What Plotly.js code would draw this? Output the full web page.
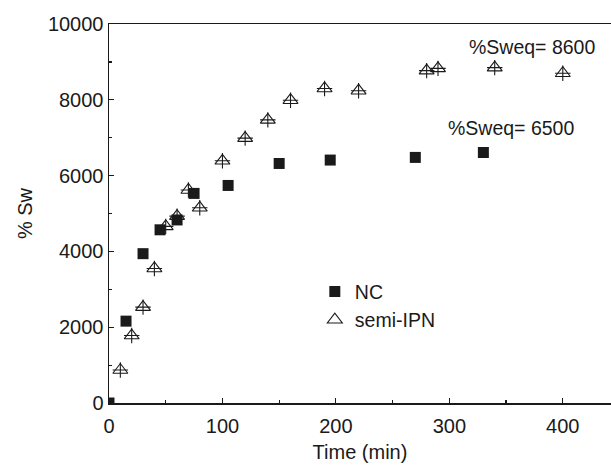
<!DOCTYPE html>
<html>
<head>
<meta charset="utf-8">
<script src="https://cdn.plot.ly/plotly-3.0.1.min.js"></script>
<style>html,body{margin:0;padding:0;background:#fff;}#chart{width:611px;height:465px;}</style>
</head>
<body>
<div id="chart"></div>
<script>
const ncTime = [0, 15, 30, 45, 60, 75, 105, 150, 195, 270, 330];
const ncSw = [0, 2160, 3940, 4570, 4830, 5530, 5740, 6320, 6410, 6480, 6610];
const ipnTime = [10, 20, 30, 40, 50, 60, 70, 80, 100, 120, 140, 160, 190, 220, 280, 290, 340, 400];
const ipnSw = [870, 1780, 2530, 3550, 4660, 4930, 5620, 5150, 6390, 6990, 7470, 7990, 8300, 8240, 8770, 8830, 8850, 8700];
const ncName = 'NC';
const ipnName = 'semi-IPN';
const notes = [
  {text: '%Sweq= 8600', x: 373, y: 9390},
  {text: '%Sweq= 6500', x: 354, y: 7250}
];
const xTitle = 'Time (min)';
const yTitle = '% Sw';

const ink = '#1a1a1a';
const fontFam = 'Arial, "Liberation Sans", Helvetica, sans-serif';

const traces = [
  {x: ncTime, y: ncSw, name: ncName, mode: 'markers', type: 'scatter',
   marker: {symbol: 'square', size: 11, color: ink, line: {width: 0}}},
  {x: ipnTime, y: ipnSw, name: ipnName, mode: 'markers', type: 'scatter', legendgroup: 'ipn',
   marker: {symbol: 'triangle-up-open', size: 13, color: ink, line: {width: 1.1, color: ink}}},
  {x: ipnTime, y: ipnSw, name: ipnName, mode: 'markers', type: 'scatter', legendgroup: 'ipn', showlegend: false,
   marker: {symbol: 'cross-thin-open', size: 11, color: ink, line: {width: 1.1, color: ink}}}
];

const layout = {
  width: 611, height: 465,
  margin: {l: 109, r: 0, t: 24, b: 62},
  paper_bgcolor: '#fff', plot_bgcolor: '#fff',
  font: {family: fontFam, size: 20, color: ink},
  showlegend: true,
  legend: {x: 0.41, y: 0.345, xanchor: 'left', yanchor: 'top', bgcolor: 'rgba(0,0,0,0)',
           font: {family: fontFam, size: 19.5, color: ink}, itemwidth: 30, tracegroupgap: 0},
  xaxis: {range: [0, 442.5], dtick: 100, tick0: 0, ticks: 'inside', ticklen: 5, tickwidth: 1.2, tickcolor: ink,
          minor: {dtick: 50, ticks: 'inside', ticklen: 3, tickwidth: 1.2, tickcolor: ink},
          showline: true, linewidth: 1.5, linecolor: ink, mirror: true, showgrid: false, zeroline: false,
          ticklabelstandoff: 4,
          tickfont: {family: fontFam, size: 20, color: ink},
          title: {text: xTitle, font: {family: fontFam, size: 20, color: ink}, standoff: 9}},
  yaxis: {range: [0, 10000], dtick: 2000, tick0: 0, tickformat: 'd', ticks: 'inside', ticklen: 5, tickwidth: 1.2, tickcolor: ink,
          minor: {dtick: 1000, ticks: 'inside', ticklen: 3, tickwidth: 1.2, tickcolor: ink},
          showline: true, linewidth: 1.5, linecolor: ink, mirror: false, showgrid: false, zeroline: false,
          tickfont: {family: fontFam, size: 20, color: ink},
          title: {text: yTitle, font: {family: fontFam, size: 20, color: ink}, standoff: 10}},
  annotations: notes.map(n => ({x: n.x, y: n.y, xref: 'x', yref: 'y', text: n.text, showarrow: false,
                                font: {family: fontFam, size: 19.5, color: ink}}))
};

Plotly.newPlot('chart', traces, layout, {displayModeBar: false, staticPlot: true});
</script>
</body>
</html>
